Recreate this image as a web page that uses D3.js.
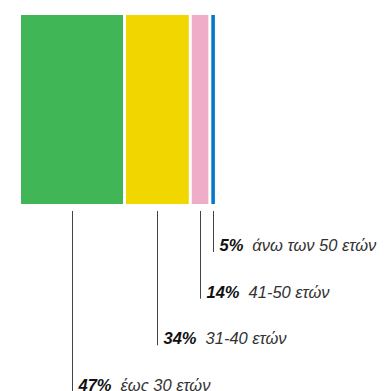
<!DOCTYPE html>
<html><head><meta charset="utf-8">
<script src="https://cdn.jsdelivr.net/npm/d3@7"></script>
<style>html,body{margin:0;padding:0;background:#fff;overflow:hidden}</style>
</head><body><svg id="c" width="386" height="391"></svg>
<script>
const categories = ["έως 30 ετών", "31-40 ετών", "41-50 ετών", "άνω των 50 ετών"];
const shares = [47, 34, 14, 5];
const colors = ["#40b656", "#f2d600", "#f0adc8", "#0079c8"];

const svg = d3.select("#c");
const x0 = 21, gap = 3, barTop = 15, barBottom = 204;
const w = d3.scalePow().exponent(1.5).domain([0, d3.max(shares)]).range([0, 102]);

let cur = x0;
const data = shares.map((v, i) => {
  const d = {v, cat: categories[i], color: colors[i], x: cur, w: w(v)};
  cur += d.w + gap;
  return d;
});

svg.selectAll("rect").data(data).join("rect")
  .attr("x", d => d.x).attr("y", barTop)
  .attr("width", d => d.w).attr("height", barBottom - barTop)
  .attr("fill", d => d.color);

const yLab = d3.scaleLinear().domain([0, 3]).range([391, 251]);
const cx = d => Math.floor(d.x + d.w / 2) + 0.5;

const g = svg.selectAll("g.lab").data(data).join("g").attr("class", "lab");
g.append("line")
  .attr("x1", cx).attr("x2", cx)
  .attr("y1", 211).attr("y2", (d, i) => yLab(i) + 1)
  .attr("stroke", "#444").attr("stroke-width", 1);

const t = g.append("text")
  .attr("x", d => cx(d) + 6)
  .attr("y", (d, i) => yLab(i))
  .style("font-family", "'Liberation Sans', Arial, sans-serif")
  .style("font-size", "16.5px").style("font-style", "italic");
t.append("tspan").text(d => d.v + "%").style("font-weight", "bold").attr("fill", "#111");
t.append("tspan").attr("dx", 9).text(d => d.cat).attr("fill", "#333");
</script></body></html>
